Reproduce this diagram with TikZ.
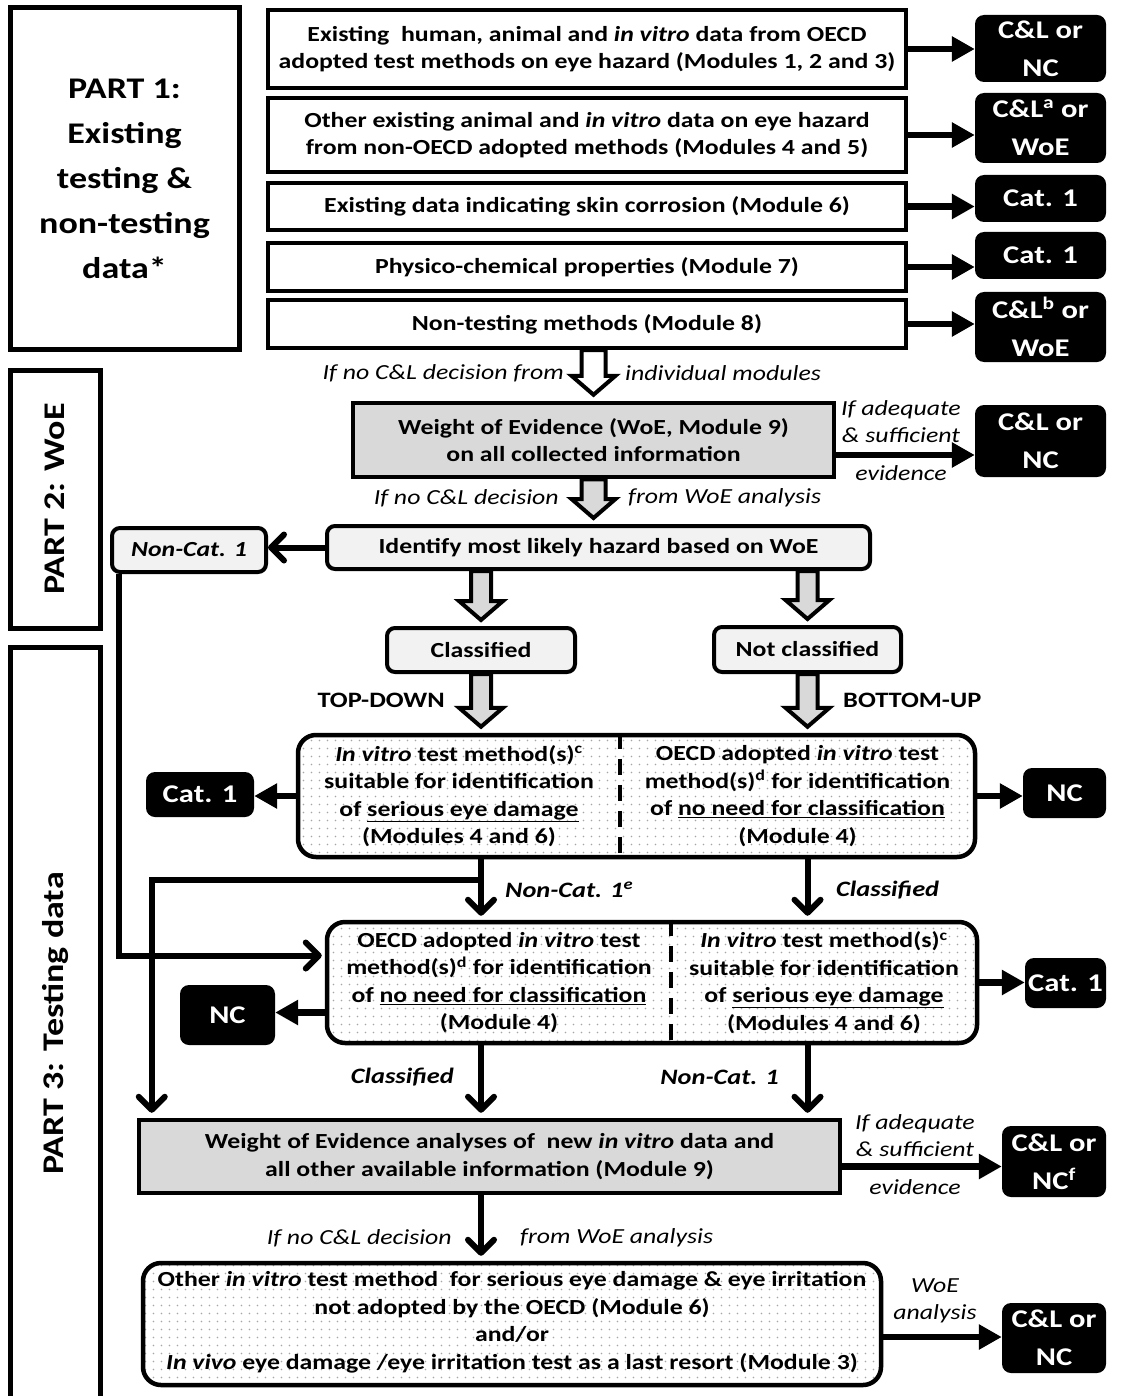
\documentclass[tikz,border=0pt]{standalone}
\usepackage{fontspec}
\setmainfont{Carlito}[FakeStretch=1.2]
\usetikzlibrary{arrows.meta,calc,patterns.meta}

\tikzdeclarepattern{name=dotgrid,type=uncolored,
  bounding box={(0,0) and (7.5pt,7.5pt)},tile size={(7.5pt,7.5pt)},
  code={\fill (3.75pt,3.75pt) circle (0.9pt);}}

\newcommand{\partfont}{\bfseries\fontsize{30}{45}\selectfont}
\newcommand{\boxfont}{\bfseries\fontsize{21.5}{27.5}\selectfont}
\newcommand{\tagfont}{\bfseries\fontsize{25.5}{38}\selectfont}
\newcommand{\notefont}{\itshape\fontsize{21.5}{27}\selectfont}

% hollow block arrow going down: [shaft half width]{fill}{from}{to}
\newcommand{\blockarrow}[4][12pt]{%
  \draw[line width=4pt,fill=#2,line join=miter] let \p1=(#3), \p2=(#4) in
    (\x1-#1,\y1) -- (\x1+#1,\y1) -- (\x1+#1,\y2+25pt) -- (\x1+22pt,\y2+25pt)
    -- (\x1,\y2+6pt) -- (\x1-22pt,\y2+25pt) -- (\x1-#1,\y2+25pt) -- cycle;}

\begin{document}
\begin{tikzpicture}[x=1pt,y=-1pt,
    partbox/.style={draw,line width=5pt,align=center,inner sep=0,font=\partfont},
    srcbox/.style={draw,line width=4pt,align=center,inner sep=0,minimum width=638,font=\boxfont},
    tagbox/.style={fill=black,text=white,rounded corners=9,align=center,inner sep=0,font=\tagfont},
    woebox/.style={draw,line width=4.5pt,fill=black!15,align=center,inner sep=0,font=\boxfont},
    hazbox/.style={draw,line width=4pt,fill=black!5,rounded corners=8,align=center,inner sep=0,font=\boxfont},
    dotbox/.style={draw,line width=4.5pt,rounded corners=18,pattern=dotgrid,pattern color=black!35,inner sep=0},
    halftext/.style={align=center,inner sep=0,font=\boxfont},
    notelabel/.style={align=center,inner sep=0,font=\notefont},
    steplabel/.style={inner sep=0,font=\bfseries\fontsize{22}{27}\selectfont},
    solidarr/.style={line width=6.5pt,-{Triangle[length=23pt,width=24pt]}},
    openarr/.style={line width=6pt,-{Straight Barb[length=13pt,width=26pt,round]}},
    divider/.style={line width=4pt,dash pattern=on 16pt off 10pt}]
    \useasboundingbox (0,0) rectangle (1123,1396);
    \clip (0,0) rectangle (1123,1396);

    % the three parts
    \node[partbox,minimum width=229,minimum height=341] (part1) at (124.5,178.5)
        {PART 1:\\Existing\\testing \&\\non-testing\\data*};
    \node[partbox,rotate=90,minimum width=258,minimum height=90] (part2) at (55,499) {PART 2: WoE};
    \node[partbox,rotate=90,minimum width=753,minimum height=90] (part3) at (55,1023.5) {PART 3: Testing data};

    % part 1: existing data
    \node[srcbox,minimum height=78] (b1) at (587,49)
        {Existing\ \ human, animal and \textit{in vitro} data from OECD\\adopted test methods on eye hazard (Modules 1, 2 and 3)};
    \node[srcbox,minimum height=74] (b2) at (587,135)
        {Other existing animal and \textit{in vitro} data on eye hazard\\from non-OECD adopted methods (Modules 4 and 5)};
    \node[srcbox,minimum height=47] (b3) at (587,206.5) {Existing data indicating skin corrosion (Module 6)};
    \node[srcbox,minimum height=48] (b4) at (587,267) {Physico-chemical properties (Module 7)};
    \node[srcbox,minimum height=48] (b5) at (587,324) {Non-testing methods (Module 8)};

    \node[tagbox,minimum width=131,minimum height=67] (r1) at (1040.5,48.5) {C\&L or\\NC};
    \node[tagbox,minimum width=131,minimum height=70] (r2) at (1040.5,128) {C\&L\textsuperscript{a} or\\WoE};
    \node[tagbox,minimum width=131,minimum height=47] (r3) at (1040.5,198.5) {Cat. 1};
    \node[tagbox,minimum width=131,minimum height=47] (r4) at (1040.5,255.5) {Cat. 1};
    \node[tagbox,minimum width=131,minimum height=70] (r5) at (1040.5,327) {C\&L\textsuperscript{b} or\\WoE};

    \foreach \i in {1,...,5}
        \draw[solidarr] (b\i.east) -- (b\i.east -| r\i.west);

    % part 2: weight of evidence
    \node[woebox,minimum width=481,minimum height=74] (woe1) at (593.5,440)
        {Weight of Evidence (WoE, Module 9)\\on all collected information};
    \node[tagbox,minimum width=131,minimum height=72] (r6) at (1040.5,441) {C\&L or\\NC};
    \coordinate (w1out) at ([yshift=-15pt]woe1.east);
    \draw[solidarr] (w1out) -- (w1out -| r6.west);
    \node[notelabel] (adeq1) at (901,421.5) {If adequate\\\& sufficient};
    \node[notelabel] (evid1) at (901,473) {evidence};

    \blockarrow{white}{b5.south -| woe1.north}{woe1.north}
    \node[notelabel,anchor=east] (nodec1) at (564,373) {If no C\&L decision from};
    \node[notelabel,anchor=west] (indiv) at (625,373) {individual modules};

    \node[hazbox,minimum width=543,minimum height=43] (identify) at (598.5,547.5)
        {Identify most likely hazard based on WoE};
    \blockarrow[12pt]{black!15}{woe1.south}{woe1.south |- identify.north}
    \node[notelabel,anchor=east] (nodec2) at (559,498) {If no C\&L decision};
    \node[notelabel,anchor=west] (fromwoe1) at (628,498) {from WoE analysis};

    \node[hazbox,minimum width=154,minimum height=44] (noncat) at (189,550) {\textit{Non-Cat. 1}};
    \draw[openarr] (identify.west) -- (identify.west -| noncat.east);

    \node[hazbox,minimum width=188,minimum height=44] (classified) at (481,650) {Classified};
    \node[hazbox,minimum width=187,minimum height=45] (notclass) at (807.5,649.5) {Not classified};
    \blockarrow[10pt]{black!15}{identify.south -| classified.north}{classified.north}
    \blockarrow[10pt]{black!15}{identify.south -| notclass.north}{notclass.north}

    % part 3: testing
    \node[dotbox,minimum width=677,minimum height=122] (d1) at (636.5,796) {};
    \node[halftext,minimum width=322] (d1l) at (459,796)
        {\textit{In vitro} test method(s)\textsuperscript{c}\\suitable for identification\\of \underline{serious eye damage}\\(Modules 4 and 6)};
    \node[halftext,minimum width=355] (d1r) at (797.5,796)
        {OECD adopted \textit{in vitro} test\\method(s)\textsuperscript{d} for identification\\of \underline{no need for classification}\\(Module 4)};
    \draw[divider] (d1l.east |- d1.north) -- (d1l.east |- d1.south);

    \blockarrow[10pt]{black!15}{classified.south}{classified.south |- d1.north}
    \blockarrow[10pt]{black!15}{notclass.south}{notclass.south |- d1.north}
    \node[steplabel,anchor=east] (topdown) at (445,700) {TOP-DOWN};
    \node[steplabel,anchor=west] (bottomup) at (843,700) {BOTTOM-UP};

    \node[tagbox,minimum width=108,minimum height=45] (c1) at (200,794.5) {Cat. 1};
    \node[tagbox,minimum width=83,minimum height=50] (n1) at (1064.5,793) {NC};
    \draw[solidarr] (d1.west) -- (d1.west -| c1.east);
    \draw[solidarr] (d1.east) -- (d1.east -| n1.west);

    \node[dotbox,minimum width=650,minimum height=121] (d2) at (652,982.5) {};
    \node[halftext,minimum width=344] (d2l) at (499,982.5)
        {OECD adopted \textit{in vitro} test\\method(s)\textsuperscript{d} for identification\\of \underline{no need for classification}\\(Module 4)};
    \node[halftext,minimum width=306] (d2r) at (824,982.5)
        {\textit{In vitro} test method(s)\textsuperscript{c}\\suitable for identification\\of \underline{serious eye damage}\\(Modules 4 and 6)};
    \draw[divider] (d2l.east |- d2.north) -- (d2l.east |- d2.south);

    \draw[openarr,shorten >=4] (d1.south -| classified.south) -- (d2.north -| classified.south);
    \draw[openarr,shorten >=4] (d1.south -| notclass.south) -- (d2.north -| notclass.south);
    \node[steplabel,anchor=west] (noncate) at (505,890) {\textit{Non-Cat. 1\textsuperscript{e}}};
    \node[steplabel,anchor=west] (classr) at (836,890) {\textit{Classified}};

    \coordinate (d2in) at ([yshift=27pt]d2.west);
    \draw[openarr,shorten >=3] ([xshift=9pt]noncat.south west) |- (d2in);

    \node[tagbox,minimum width=95,minimum height=60] (n2) at (227.5,1015) {NC};
    \node[tagbox,minimum width=81,minimum height=50] (c2) at (1065.5,983) {Cat. 1};
    \coordinate (d2out) at ([yshift=-30pt]d2.west);
    \draw[solidarr] (d2out) -- (d2out -| n2.east);
    \draw[solidarr] (d2.east) -- (d2.east -| c2.west);

    \node[woebox,minimum width=701,minimum height=73] (woe2) at (489.5,1156.5)
        {Weight of Evidence analyses of\ \ new \textit{in vitro} data and\\all other available information (Module 9)};
    \coordinate (split) at ($(d1.south -| classified.south)!0.35!(d2.north -| classified.south)$);
    \draw[openarr,shorten >=5] (split) -| ([xshift=15pt]woe2.north west);
    \draw[openarr,shorten >=5] (d2.south -| classified.south) -- (woe2.north -| classified.south);
    \draw[openarr,shorten >=5] (d2.south -| notclass.south) -- (woe2.north -| notclass.south);
    \node[steplabel,anchor=east] (classl) at (454,1077) {\textit{Classified}};
    \node[steplabel,anchor=east] (noncatl) at (779,1077) {\textit{Non-Cat. 1}};

    \node[tagbox,minimum width=104,minimum height=71] (r7) at (1054,1161.5) {C\&L or\\NC\textsuperscript{f}};
    \coordinate (w2out) at ([yshift=-10pt]woe2.east);
    \draw[solidarr] (w2out) -- (w2out -| r7.west);
    \node[notelabel] (adeq2) at (915,1135.5) {If adequate\\\& sufficient};
    \node[notelabel] (evid2) at (915,1187) {evidence};

    \node[dotbox,minimum width=738,minimum height=122] (last) at (512,1324) {};
    \node[halftext] (lastt) at (512,1322)
        {Other \textit{in vitro} test method\ \ for serious eye damage \& eye irritation\\not adopted by the OECD (Module 6)\\and/or\\\textit{In vivo} eye damage /eye irritation test as a last resort (Module 3)};
    \draw[openarr,shorten >=5] (woe2.south -| classified.south) -- (last.north -| classified.south);
    \node[notelabel,anchor=east] (nodec3) at (452,1238) {If no C\&L decision};
    \node[notelabel,anchor=west] (fromwoe2) at (520,1238) {from WoE analysis};

    \node[tagbox,minimum width=104,minimum height=70] (r8) at (1054,1338) {C\&L or\\NC};
    \coordinate (lastout) at ([yshift=-13pt]last.east);
    \draw[solidarr] (lastout) -- (lastout -| r8.west);
    \node[notelabel] (woean) at (935,1301) {WoE\\analysis};
\end{tikzpicture}
\end{document}
